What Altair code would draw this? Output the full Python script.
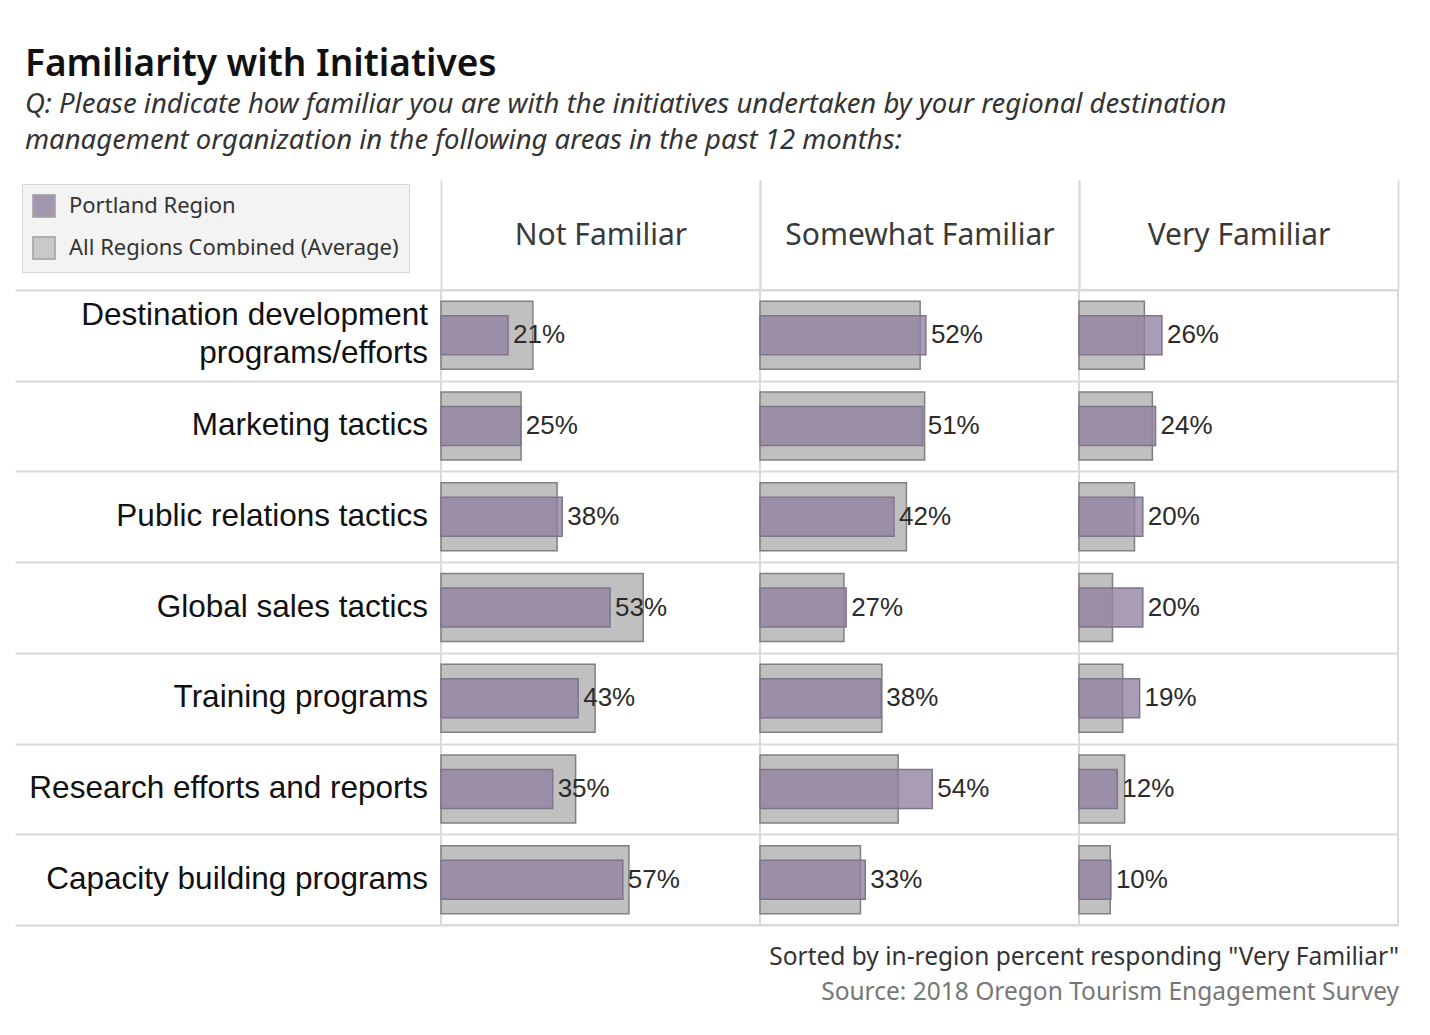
import altair as alt
import pandas as pd

# ---------------- data ----------------
categories = [
    "Destination development\nprograms/efforts",
    "Marketing tactics",
    "Public relations tactics",
    "Global sales tactics",
    "Training programs",
    "Research efforts and reports",
    "Capacity building programs",
]
levels = ["Not Familiar", "Somewhat Familiar", "Very Familiar"]

portland_not = [21, 25, 38, 53, 43, 35, 57]
portland_somewhat = [52, 51, 42, 27, 38, 54, 33]
portland_very = [26, 24, 20, 20, 19, 12, 10]

average_not = [28.8, 25.1, 36.4, 63.4, 48.3, 42.2, 58.9]
average_somewhat = [50.2, 51.6, 45.9, 26.3, 38.2, 43.3, 31.5]
average_very = [20.5, 23.0, 17.4, 10.5, 13.7, 14.3, 9.8]

series_names = ["Portland Region", "All Regions Combined (Average)"]

title_text = "Familiarity with Initiatives"
subtitle_lines = [
    "Q: Please indicate how familiar you are with the initiatives undertaken by your regional destination",
    "management organization in the following areas in the past 12 months:",
]
footer_line1 = 'Sorted by in-region percent responding "Very Familiar"'
footer_line2 = "Source: 2018 Oregon Tourism Engagement Survey"

# ---------------- table ----------------
portland = {"Not Familiar": portland_not, "Somewhat Familiar": portland_somewhat, "Very Familiar": portland_very}
average = {"Not Familiar": average_not, "Somewhat Familiar": average_somewhat, "Very Familiar": average_very}
rows = []
for lv in levels:
    for i, c in enumerate(categories):
        rows.append({"category": c, "level": lv, "portland": portland[lv][i], "average": average[lv][i]})
df = pd.DataFrame(rows)
df_cat = pd.DataFrame({"category": categories})

# ---------------- styling ----------------
LINE = "#dadada"
PURPLE = "#9081a0"
GRAY = "#c0c0c0"
PANEL_W = 319
BODY_H = 635
LABEL_W = 426
LABEL_LH = 38

yscale = alt.Scale(type="band", domain=categories, paddingInner=0, paddingOuter=0)
yaxis = alt.Axis(labels=False, ticks=False, domain=False, title=None, grid=True,
                 tickBand="extent", gridColor=LINE, gridWidth=2)
y_enc = alt.Y("category:N", sort=categories, scale=yscale, axis=yaxis)

color_enc = alt.Color(
    "series:N",
    scale=alt.Scale(domain=series_names, range=[PURPLE, GRAY]),
    legend=alt.Legend(
        title=None, orient="none", legendX=7, legendY=-106, direction="vertical",
        symbolType="square", symbolSize=484, symbolStrokeWidth=1.5,
        symbolStrokeColor="#8a8a8a", symbolOpacity=0.8,
        labelFont="Noto Sans", labelFontSize=22, labelColor="#333333",
        labelOffset=13, rowPadding=14, padding=10, labelLimit=400,
        fillColor="#f3f3f3", strokeColor="#d6d6d6",
    ),
)


def panel(level, footer=False):
    xscale = alt.Scale(domain=[0, 100], nice=False, zero=True)
    xaxis = alt.Axis(
        orient="top", values=[0, 100], labels=False, domain=False, grid=False,
        ticks=True, tickSize=110, tickColor=LINE, tickWidth=2,
        title=level, titleY=-55, titleBaseline="middle", titleFont="Noto Sans",
        titleFontSize=30, titleFontWeight="normal", titleColor="#3a3a3a",
    )
    base = alt.Chart(df).transform_filter(alt.datum.level == level)
    gray = base.transform_calculate(series="'All Regions Combined (Average)'").mark_bar(
        size=68, stroke="#808080", strokeWidth=1.5
    ).encode(x=alt.X("average:Q", scale=xscale, axis=xaxis), y=y_enc, color=color_enc)
    purple = base.transform_calculate(series="'Portland Region'").mark_bar(
        size=39, fillOpacity=0.78, stroke="#7d758a", strokeWidth=1.5
    ).encode(x=alt.X("portland:Q", scale=xscale, axis=xaxis), y=y_enc, color=color_enc)
    text = base.transform_calculate(lbl="format(datum.portland, '.0f') + '%'").mark_text(
        align="left", baseline="middle", dx=5, font="Liberation Sans", fontSize=26, color="#2b2b2b"
    ).encode(x=alt.X("portland:Q", scale=xscale, axis=xaxis), y=y_enc, text="lbl:N")
    props = dict(width=PANEL_W, height=BODY_H,
                 view=alt.ViewBackground(stroke=LINE, strokeWidth=2))
    if footer:
        props["title"] = alt.TitleParams(
            text=footer_line1, subtitle=footer_line2, orient="bottom", anchor="end",
            offset=21, font="Noto Sans", fontSize=24.5, fontWeight="normal", color="#333333",
            subtitleFont="Noto Sans", subtitleFontSize=24.5, subtitleColor="#777777",
            subtitlePadding=10,
        )
    return alt.layer(gray, purple, text).properties(**props)


label_base = alt.Chart(df_cat)
label_style = dict(align="right", baseline="middle", font="Liberation Sans", fontSize=31.5,
                   lineBreak="\n", lineHeight=LABEL_LH, color="#111111")
single_line = label_base.transform_filter(
    "indexof(datum.category, '\\n') < 0"
).mark_text(**label_style).encode(y=y_enc, text="category:N", x=alt.value(LABEL_W - 13))
two_line = label_base.transform_filter(
    "indexof(datum.category, '\\n') >= 0"
).mark_text(dy=-LABEL_LH / 2, **label_style).encode(y=y_enc, text="category:N", x=alt.value(LABEL_W - 13))
labels = alt.layer(single_line, two_line).properties(width=LABEL_W, height=BODY_H)

chart = alt.hconcat(
    labels, panel(levels[0]), panel(levels[1]), panel(levels[2], footer=True),
    spacing=0, bounds="flush",
).properties(
    title=alt.TitleParams(
        text=title_text, subtitle=subtitle_lines, anchor="start", frame="group", dx=10,
        offset=23, font="Noto Sans", fontSize=37, fontWeight=600, color="#111111",
        subtitleFont="Noto Sans", subtitleFontSize=27.5, subtitleFontStyle="italic",
        subtitleColor="#333333", subtitleLineHeight=36, subtitlePadding=7,
    ),
    padding={"left": 7, "top": 37, "right": 10, "bottom": 10},
).configure_view(stroke=None)

chart.save("out.html", embed_options={"renderer": "svg", "actions": False})
